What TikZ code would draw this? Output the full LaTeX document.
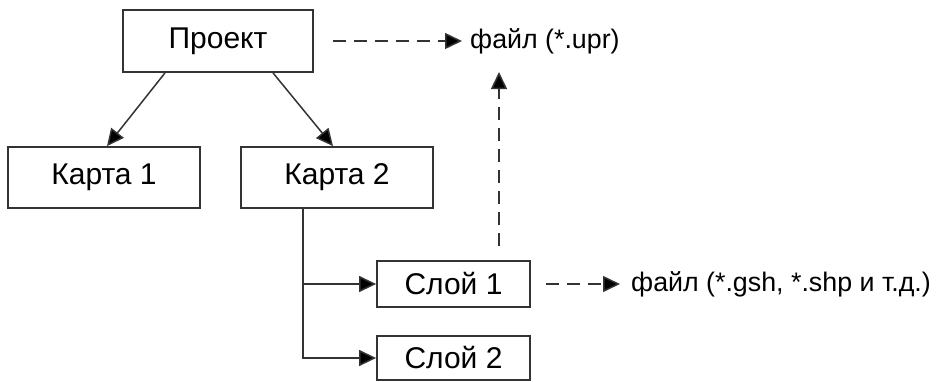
\documentclass[tikz,border=0pt]{standalone}
\usepackage{fontspec}
\setmainfont{Liberation Sans}
\usetikzlibrary{arrows.meta}

\begin{document}
\begin{tikzpicture}[x=1pt,y=-1pt,
	box/.style={draw=black!80, line width=1.8pt, inner sep=0pt, font=\fontsize{30}{36}\selectfont},
	file/.style={inner sep=0pt, anchor=west, font=\fontsize{26.8}{32}\selectfont},
	arr/.style={draw=black!80, line width=1.5pt, -{Triangle[length=17pt,width=16pt,fill=black]}},
	darr/.style={arr, dash pattern=on 13pt off 8pt}]
	\useasboundingbox (0,0) rectangle (936,381);
	
	%Project and maps
	\node[box, minimum width=190, minimum height=62] (P) at (218,41) {Проект};
	\node[box, minimum width=192, minimum height=61] (K1) at (104,177.5) {Карта 1};
	\node[box, minimum width=192, minimum height=61] (K2) at (337,177.5) {Карта 2};
	
	%Layers
	\node[box, minimum width=153, minimum height=46] (S1) at (453.5,284) {Слой 1};
	\node[box, minimum width=153, minimum height=44] (S2) at (453.5,358) {Слой 2};
	
	%Files
	\node[file] (F1) at (470,41) {файл (*.upr)};
	\node[file] (F2) at (631,284) {файл (*.gsh, *.shp и т.д.)};
	\coordinate (T1) at (499,72);
	
	\draw[arr] ([xshift=-53pt]P.south) -- ([xshift=3pt]K1.north);
	\draw[arr] ([xshift=55pt]P.south) -- ([xshift=-4pt]K2.north);
	\draw[arr] ([xshift=-34pt]K2.south) |- (S1.west);
	\draw[arr] ([xshift=-34pt]K2.south) |- (S2.west);
	
	\draw[darr] ([xshift=19pt]P.east) -- ([xshift=-8pt]F1.west);
	\draw[darr] ([xshift=15pt]S1.east) -- ([xshift=-11pt]F2.west);
	\draw[darr] ([xshift=45.5pt,yshift=14pt]S1.north) -- (T1);
	
\end{tikzpicture}
\end{document}
